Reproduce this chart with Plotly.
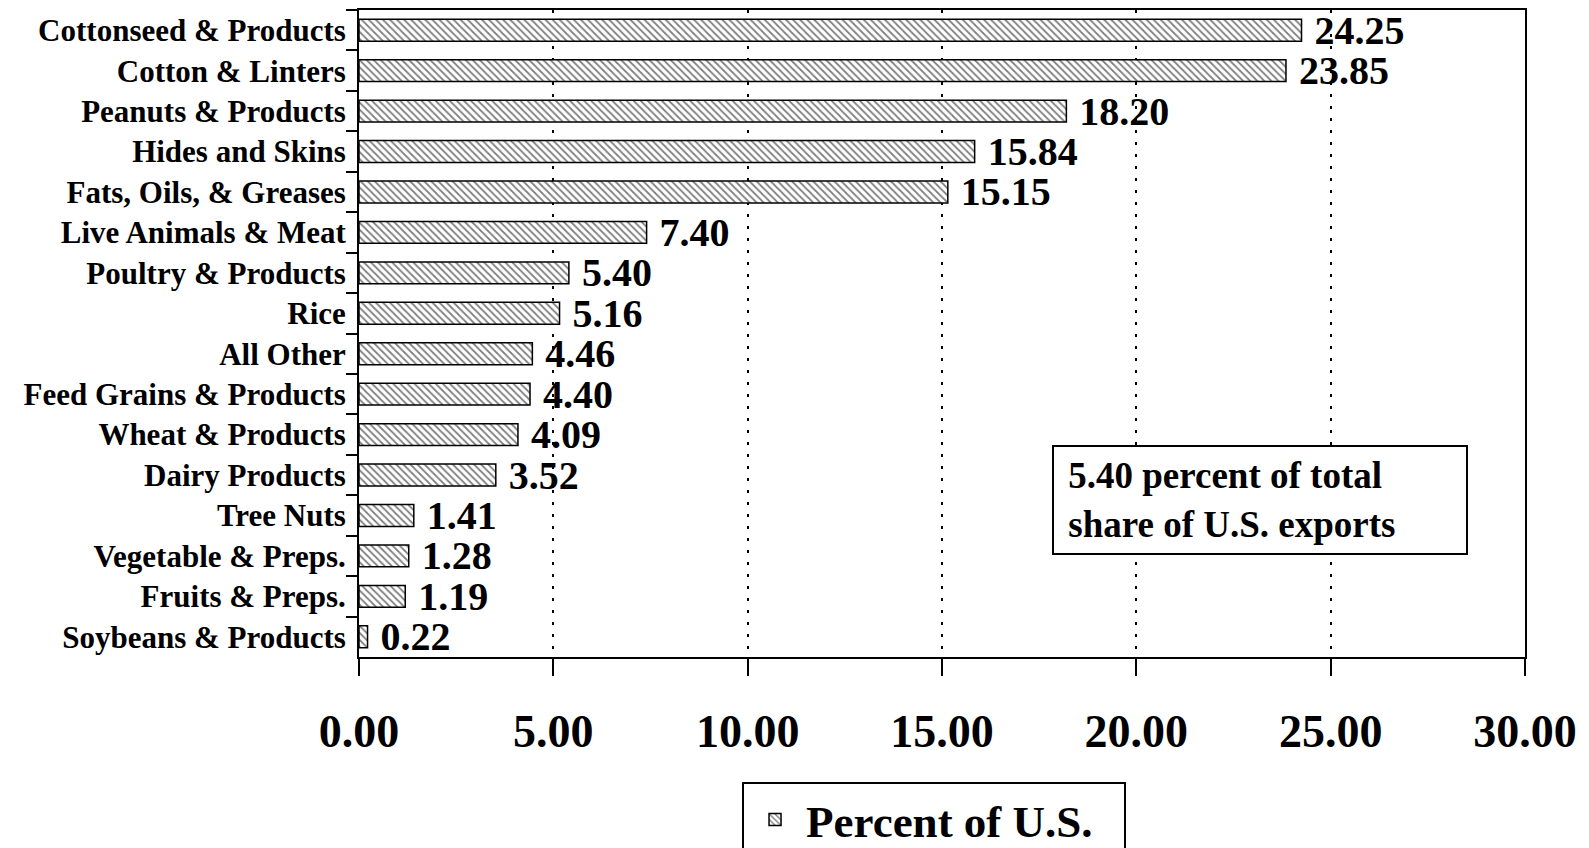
import plotly.graph_objects as go

categories = [
    "Cottonseed & Products", "Cotton & Linters", "Peanuts & Products", "Hides and Skins",
    "Fats, Oils, & Greases", "Live Animals & Meat", "Poultry & Products", "Rice",
    "All Other", "Feed Grains & Products", "Wheat & Products", "Dairy Products",
    "Tree Nuts", "Vegetable & Preps.", "Fruits & Preps.", "Soybeans & Products",
]
values = [24.25, 23.85, 18.20, 15.84, 15.15, 7.40, 5.40, 5.16, 4.46, 4.40, 4.09, 3.52,
          1.41, 1.28, 1.19, 0.22]
x_ticks = [0, 5, 10, 15, 20, 25, 30]
x_tick_labels = ["0.00", "5.00", "10.00", "15.00", "20.00", "25.00", "30.00"]
series_name = "Percent of U.S."
note_text = "\u00a05.40 percent of total<br>\u00a0share of U.S. exports"

FONT = "Liberation Serif"

fig = go.Figure()
fig.add_trace(go.Bar(
    y=categories, x=values, orientation="h", name=series_name,
    width=0.54,
    marker=dict(color="white", line=dict(color="black", width=1.5),
                pattern=dict(shape="\\", fgcolor="black", bgcolor="white", size=5, solidity=0.35)),
    text=["\u00a0" + f"{v:.2f}" for v in values],
    textposition="outside", constraintext="none", cliponaxis=False,
    textfont=dict(family=FONT, size=40, color="black", weight="bold"),
    hoverinfo="skip",
))

# page body has an 8px margin; figure sized/margined so the plot lands where the reference has it
fig.update_layout(
    width=1581, height=840,
    margin=dict(l=351, r=64, t=2, b=191, autoexpand=False),
    paper_bgcolor="white", plot_bgcolor="white",
    font=dict(family=FONT, color="black", weight="bold"),
    showlegend=True,
    legend=dict(orientation="h", x=0.3285, xanchor="left", y=-0.193, yanchor="top",
                bordercolor="black", borderwidth=2, bgcolor="white",
                itemwidth=52, entrywidth=313,
                font=dict(family=FONT, size=45, color="black", weight="bold")),
    bargap=0.46,
)
fig.update_xaxes(
    range=[0, 30], tickvals=x_ticks, ticktext=x_tick_labels,
    showline=True, linecolor="black", linewidth=2, mirror=True,
    ticks="outside", ticklen=17, tickwidth=2, tickcolor="black",
    tickfont=dict(family=FONT, size=46, color="black", weight="bold"),
    ticklabelstandoff=16,
    showgrid=True, gridcolor="black", gridwidth=2, griddash="3px,9px",
    zeroline=False,
)
fig.update_yaxes(
    categoryorder="array", categoryarray=categories, autorange="reversed",
    showline=True, linecolor="black", linewidth=2, mirror=True,
    ticks="outside", ticklen=11, tickwidth=2, tickcolor="black", tickson="boundaries",
    tickfont=dict(family=FONT, size=31, color="black", weight="bold"),
    ticklabelstandoff=5,
    showgrid=False,
)
fig.add_annotation(
    xref="paper", yref="paper", x=0.5943, y=0.3277, xanchor="left", yanchor="top",
    text=note_text, showarrow=False, align="left", valign="middle",
    width=402, height=96, borderpad=5,
    bordercolor="black", borderwidth=2, bgcolor="white",
    font=dict(family=FONT, size=37, color="black", weight="bold"),
)

fig.write_html("out.html")
